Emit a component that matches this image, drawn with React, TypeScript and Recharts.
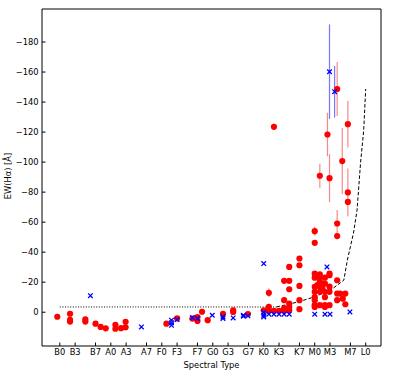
import React from "react";
import { ScatterChart, Scatter, XAxis, YAxis, ErrorBar } from "recharts";

// spectral type code: B0 = 0, A0 = 10, F0 = 20, G0 = 30, K0 = 40, M0 = 50, L0 = 60
const tickTypes = [0, 3, 7, 10, 13, 17, 20, 23, 27, 30, 33, 37, 40, 43, 47, 50, 53, 57, 60];
const tickLabels = ["B0", "B3", "B7", "A0", "A3", "A7", "F0", "F3", "F7", "G0", "G3", "G7", "K0", "K3", "K7", "M0", "M3", "M7", "L0"];
const ewTicks = [-180, -160, -140, -120, -100, -80, -60, -40, -20, 0];

const redTypes = [
  -0.5, 2, 2, 2, 5, 5, 7, 8, 9, 10.9, 10.9, 12, 12.9, 12.9,
  20.9, 23, 26, 27, 27, 27.9, 29, 32, 34, 34, 36.9,
  40, 41, 41, 42, 43, 44, 44, 44, 44, 45, 45, 45, 45, 45, 45, 47, 47, 47, 47, 47,
  50, 50, 50, 50, 50, 50, 50, 50, 50,
  51, 51, 51, 51, 51, 51, 50.5, 51.5, 51.5,
  52, 52, 52, 52, 52, 52,
  52.9, 52.9, 52.9, 52.9, 52.9,
  54.4, 54.4, 54.4, 54.4, 55, 55.5, 56, 56, 56.5,
];
const redEW = [
  3, 1, 5, 6.2, 4.8, 6.2, 7.6, 9.8, 10.7, 8.4, 11, 10.6, 6.4, 10,
  7.6, 4.1, 4.2, 3.3, 5.8, -0.3, 5.3, 1, -1.3, -0.2, 1.2,
  -1.3, -3.5, -0.9, -0.9, -0.9, -20.9, -8, -2.7, -0.9, -30.2, -20.9, -15.3, -5.8, -3.5, -1.3, -35.8, -31.3, -17.5, -8, -2,
  -46.2, -25.8, -23, -16.9, -13.6, -10, -8, -4.7, -3.5,
  -25.3, -23, -20.2, -17, -13.6, -4.7, -18, -19, -16,
  -23, -19.1, -13.6, -10, -4.7, -3.5,
  -25.8, -24.7, -17, -13.6, -4.7,
  -50.7, -21.3, -12.4, -8, -12.4, -9, -12.4, -5.3, -73.5,
];

const redErrTypes = [41, 42, 50, 51, 52.5, 52.9, 54.4, 54.4, 55.4, 56.5, 56.5];
const redErrEW = [-12.9, -123.5, -54, -90.9, -118.4, -89.3, -148.7, -59.1, -100.7, -125.3, -79.8];
const redErrSigma = [3, 2, 3, 8, 14.5, 16, 18, 9, 22, 15.5, 16];

const blueTypes = [
  6, 16, 21.9, 21.9, 21.9, 23, 26, 27, 29.9, 32, 32, 34, 36, 36, 36.9,
  40, 40, 40, 40, 41, 42, 43, 44, 45, 50, 52, 53, 56.9, 52.4,
];
const blueEW = [
  -11, 9.8, 5.3, 7, 8.7, 4.9, 3.6, 4.2, 2, 3.1, 4.2, 3.8, 2.7, 2, 2.4,
  -32.4, 0.2, 2, 3.1, 1.3, 1.3, 1.3, 1.3, 1.3, 1.3, 1.3, 1.3, -0.2, -30.2,
];

const blueErrTypes = [52.9, 53.9];
const blueErrEW = [-160.2, -146.9];
const blueErrSigma = [31.5, 17.2];

const dottedTypes = [0, 42.5];
const dottedEW = [-3.5, -3.5];
const dashedTypes = [42.5, 46.8, 49.9, 53.1, 55.7, 56.4, 57.6, 58.3, 59.0, 59.6, 60];
const dashedEW = [-3.5, -6.9, -10.2, -14.7, -21.3, -34.7, -52.7, -68, -100, -121, -148.7];

const pts = (xs: number[], ys: number[], es?: number[]) =>
  xs.map((x, i) => ({ x, y: ys[i], err: es ? es[i] : 0 }));

const FONT = "DejaVu Sans, sans-serif";
const tickStyle = { fontSize: 8.3, fill: "#000", fontFamily: FONT };

const RedDot = (p: any) => <circle cx={p.cx} cy={p.cy} r={3.1} fill="#ff0000" />;
const BlueCross = (p: any) => {
  const { cx, cy } = p;
  const d = 2.3;
  return (
    <path
      d={`M${cx - d},${cy - d}L${cx + d},${cy + d}M${cx - d},${cy + d}L${cx + d},${cy - d}`}
      stroke="#0000ff"
      strokeWidth={1.3}
      fill="none"
    />
  );
};
const NoShape = () => <g />;

const minus = (v: number) => String(v).replace("-", "\u2212");

export default function App() {
  return (
    <div style={{ position: "absolute", left: 0, top: 0, width: 407, height: 379, background: "#fff" }}>
      <ScatterChart width={407} height={379} margin={{ top: 8, right: 25, bottom: 0, left: 0 }}>
        <XAxis
          xAxisId={0}
          type="number"
          dataKey="x"
          domain={[-3.5, 63]}
          ticks={tickTypes}
          tickFormatter={(v: number) => tickLabels[tickTypes.indexOf(v)] ?? ""}
          allowDataOverflow
          height={33}
          tickSize={-3.5}
          tickMargin={6.5}
          tick={tickStyle}
          stroke="#000"
          interval={0}
          label={{ value: "Spectral Type", position: "insideBottom", offset: 11, style: { fontSize: 8.3, fill: "#000", fontFamily: FONT } }}
        />
        <XAxis
          xAxisId="top"
          orientation="top"
          type="number"
          dataKey="x"
          domain={[-3.5, 63]}
          ticks={tickTypes}
          allowDataOverflow
          height={1}
          tickSize={-3.5}
          tick={false}
          stroke="#000"
          interval={0}
        />
        <YAxis
          yAxisId={0}
          type="number"
          dataKey="y"
          reversed
          domain={[-202, 22.5]}
          ticks={ewTicks}
          tickFormatter={minus}
          allowDataOverflow
          width={42}
          tickSize={-3.5}
          tickMargin={7}
          tick={tickStyle}
          stroke="#000"
          interval={0}
        />
        <YAxis
          yAxisId="right"
          orientation="right"
          type="number"
          dataKey="y"
          reversed
          domain={[-202, 22.5]}
          ticks={ewTicks}
          allowDataOverflow
          width={1}
          tickSize={-3.5}
          tick={false}
          stroke="#000"
          interval={0}
        />
        <Scatter
          xAxisId="top"
          yAxisId="right"
          data={pts(dottedTypes, dottedEW)}
          shape={NoShape}
          line={{ stroke: "#000", strokeWidth: 1, strokeDasharray: "1 1.6" }}
          isAnimationActive={false}
        />
        <Scatter
          data={pts(dashedTypes, dashedEW)}
          shape={NoShape}
          line={{ stroke: "#000", strokeWidth: 1, strokeDasharray: "3.5 2" }}
          isAnimationActive={false}
        />
        <Scatter data={pts(redErrTypes, redErrEW, redErrSigma)} shape={RedDot} isAnimationActive={false}>
          <ErrorBar dataKey="err" direction="y" width={0} stroke="rgba(235,60,60,0.6)" strokeWidth={1.2} isAnimationActive={false} />
        </Scatter>
        <Scatter data={pts(redTypes, redEW)} shape={RedDot} isAnimationActive={false} />
        <Scatter data={pts(blueErrTypes, blueErrEW, blueErrSigma)} shape={BlueCross} isAnimationActive={false}>
          <ErrorBar dataKey="err" direction="y" width={0} stroke="rgba(60,60,255,0.7)" strokeWidth={1.2} isAnimationActive={false} />
        </Scatter>
        <Scatter data={pts(blueTypes, blueEW)} shape={BlueCross} isAnimationActive={false} />
      </ScatterChart>
      <div
        style={{
          position: "absolute",
          left: 7.5,
          top: 176,
          transform: "translate(-50%, -50%) rotate(-90deg)",
          fontFamily: FONT,
          fontSize: 8.3,
          whiteSpace: "nowrap",
          color: "#000",
        }}
      >
        EW(Hα) [Å]
      </div>
    </div>
  );
}
